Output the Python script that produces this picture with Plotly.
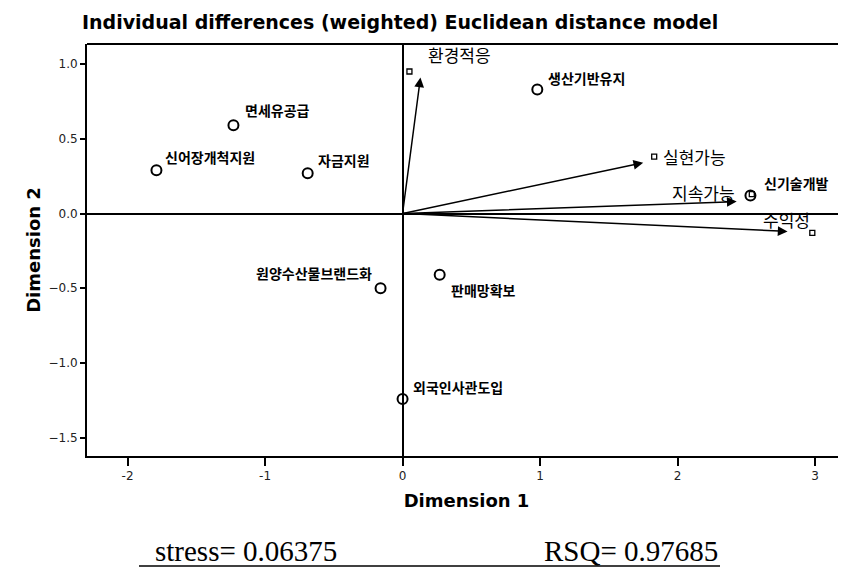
import plotly.graph_objects as go

# ---- data ----
point_labels = ["면세유공급", "신어장개척지원", "자금지원", "생산기반유지", "신기술개발",
                "원양수산물브랜드화", "판매망확보", "외국인사관도입"]
point_x = [-1.23, -1.79, -0.69, 0.98, 2.53, -0.16, 0.27, 0.00]
point_y = [0.59, 0.29, 0.27, 0.83, 0.12, -0.50, -0.41, -1.24]

vector_labels = ["환경적응", "실현가능", "지속가능", "수익성"]
vector_x = [0.05, 1.83, 2.54, 2.98]
vector_y = [0.95, 0.38, 0.13, -0.13]
arrow_x = [0.13, 1.75, 2.43, 2.80]
arrow_y = [0.91, 0.34, 0.08, -0.12]

x_ticks = [-2, -1, 0, 1, 2, 3]
y_ticks = [-1.5, -1.0, -0.5, 0.0, 0.5, 1.0]

title_text = "Individual differences (weighted) Euclidean distance model"
stress_text = "stress= 0.06375"
rsq_text = "RSQ= 0.97685"

# ---- styles (label placement offsets in px) ----
point_label_style = [
    dict(xanchor="left", xshift=10, yshift=15),
    dict(xanchor="left", xshift=7, yshift=13),
    dict(xanchor="left", xshift=8, yshift=13),
    dict(xanchor="left", xshift=9, yshift=11),
    dict(xanchor="left", xshift=12, yshift=13),
    dict(xanchor="right", xshift=-7, yshift=15),
    dict(xanchor="left", xshift=9, yshift=-15),
    dict(xanchor="left", xshift=8, yshift=12),
]
vector_label_style = [
    dict(xanchor="left", xshift=17, yshift=17),
    dict(xanchor="left", xshift=7, yshift=0),
    dict(xanchor="right", xshift=-15, yshift=2),
    dict(xanchor="right", xshift=0, yshift=13),
]

KR = "Noto Sans CJK KR"
LAT = "DejaVu Sans, Liberation Sans, sans-serif"
SERIF = "Liberation Serif, Times New Roman, serif"

# The page body has an 8px default margin, so the figure is drawn 8px right/down.
OFF = 8
W, H = 846 - OFF, 569 - OFF            # figure size
# plot area in screen pixels -> figure pixels
L, R, T, B = 87 - OFF, 846 - OFF, 44 - OFF, 456 - OFF


def sx(px):  # screen x -> paper x
    return (px - OFF - L) / (R - L)


def sy(py):  # screen y -> paper y
    return (B - (py - OFF)) / (B - T)


fig = go.Figure()

fig.add_trace(go.Scatter(
    x=point_x, y=point_y, mode="markers",
    marker=dict(symbol="circle-open", size=10, color="black", line=dict(width=2, color="black")),
    hoverinfo="skip", showlegend=False))

fig.add_trace(go.Scatter(
    x=vector_x, y=vector_y, mode="markers",
    marker=dict(symbol="square-open", size=5, color="black", line=dict(width=1.3, color="black")),
    hoverinfo="skip", showlegend=False))

annotations = []
for lbl, px, py, st in zip(point_labels, point_x, point_y, point_label_style):
    annotations.append(dict(x=px, y=py, xref="x", yref="y", text=lbl, showarrow=False,
                            yanchor="middle", font=dict(family=KR, size=14, color="black", weight="bold"),
                            **st))

for ax_, ay_ in zip(arrow_x, arrow_y):
    annotations.append(dict(x=ax_, y=ay_, xref="x", yref="y", ax=0, ay=0, axref="x", ayref="y",
                            text="", showarrow=True, arrowhead=2, arrowsize=1.3, arrowwidth=1.5,
                            arrowcolor="black", standoff=0, startstandoff=0))

for lbl, vx, vy, st in zip(vector_labels, vector_x, vector_y, vector_label_style):
    annotations.append(dict(x=vx, y=vy, xref="x", yref="y", text=lbl, showarrow=False,
                            yanchor="middle", font=dict(family=KR, size=17, color="black"),
                            **st))

# bottom statistics
annotations.append(dict(x=sx(153), y=sy(569), xref="paper", yref="paper",
                        text=stress_text, showarrow=False, xanchor="left", yanchor="bottom",
                        font=dict(family=SERIF, size=29, color="black")))
annotations.append(dict(x=sx(720), y=sy(569), xref="paper", yref="paper",
                        text=rsq_text, showarrow=False, xanchor="right", yanchor="bottom",
                        font=dict(family=SERIF, size=29, color="black")))

shapes = [
    dict(type="line", xref="paper", yref="paper", x0=0, x1=1, y0=1, y1=1,
         line=dict(color="black", width=2)),
    dict(type="line", xref="paper", yref="paper", x0=sx(139), x1=sx(720),
         y0=sy(566), y1=sy(566), line=dict(color="black", width=1.5)),
]

fig.update_layout(
    width=W, height=H,
    margin=dict(l=L, r=W - R, t=T, b=H - B, pad=0),
    paper_bgcolor="white", plot_bgcolor="white",
    title=dict(text=title_text, x=(82 - OFF) / W, xanchor="left", xref="container",
               y=1 - (22 - OFF) / H, yanchor="middle", yref="container",
               font=dict(family=LAT, size=19, color="black", weight="bold")),
    annotations=annotations, shapes=shapes,
    showlegend=False,
)

fig.update_xaxes(
    range=[-2.295, 3.225], tickvals=x_ticks, ticktext=[str(v) for v in x_ticks],
    ticks="outside", ticklen=8, tickwidth=1.5, tickcolor="black",
    showline=True, linecolor="black", linewidth=2, showgrid=False,
    zeroline=True, zerolinecolor="black", zerolinewidth=2,
    tickfont=dict(family=LAT, size=12, color="#222"),
    title=dict(text="Dimension 1", standoff=12, font=dict(family=LAT, size=18, color="black", weight="bold")),
)
fig.update_yaxes(
    range=[-1.622, 1.134], tickvals=y_ticks, tickformat=".1f",
    ticks="outside", ticklen=5, tickwidth=1.5, tickcolor="black",
    showline=True, linecolor="black", linewidth=2, showgrid=False,
    zeroline=True, zerolinecolor="black", zerolinewidth=2,
    tickfont=dict(family=LAT, size=12, color="#222"),
    title=dict(text="Dimension 2", standoff=3, font=dict(family=LAT, size=18, color="black", weight="bold")),
)

fig.write_html("out.html")
